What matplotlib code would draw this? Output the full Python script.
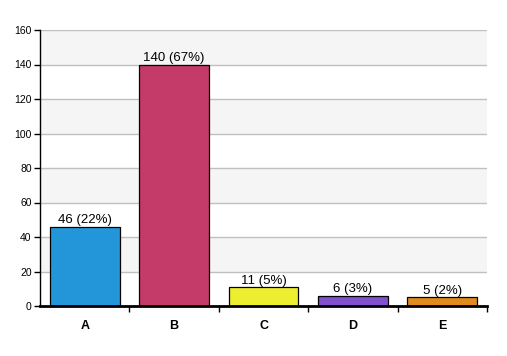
import numpy as np
import matplotlib
matplotlib.use("Agg")
import matplotlib.pyplot as plt

plt.rcParams["font.family"] = ["Liberation Sans", "DejaVu Sans"]

categories = ["A", "B", "C", "D", "E"]
counts = [46, 140, 11, 6, 5]
percents = [22, 67, 5, 3, 2]
colors = ["#2396da", "#c43a68", "#eeee30", "#8050d0", "#e08a20"]

fig = plt.figure(figsize=(5.07, 3.56), dpi=100)
ax = fig.add_axes([40 / 507, 50 / 356, 447 / 507, 276 / 356])

x = np.arange(len(categories))
ax.set_xlim(-0.5, len(categories) - 0.5)
ax.set_ylim(0, 160)

# alternating background bands
for lo in range(0, 160, 20):
    if (lo // 20) % 2 == 1:
        ax.axhspan(lo, lo + 20, color="#f5f5f5", zorder=0, lw=0)
for y in range(20, 161, 20):
    ax.axhline(y, color="#c0c0c0", lw=1, zorder=1)

ax.bar(x, counts, width=0.78, color=colors, edgecolor="black", lw=0.9, zorder=2)
for xi, c, p in zip(x, counts, percents):
    ax.text(xi, c + 0.3, f"{c} ({p}%)", ha="center", va="bottom", fontsize=9.5, zorder=3)

ax.set_yticks(range(0, 161, 20))
ax.tick_params(axis="y", labelsize=7.5, length=4, width=1, pad=2)
ax.set_xticks(np.arange(0.5, len(categories) - 0.4, 1.0))
ax.set_xticklabels([])
ax.set_xticks(x, minor=True)
ax.set_xticklabels(categories, minor=True, fontsize=9, fontweight="bold")
ax.tick_params(axis="x", which="major", length=4, width=1)
ax.tick_params(axis="x", which="minor", length=0, pad=10)

ax.spines["top"].set_visible(False)
ax.spines["right"].set_visible(False)
ax.spines["left"].set_linewidth(1)
ax.spines["bottom"].set_linewidth(2)

fig.savefig("out.png", dpi=100)
